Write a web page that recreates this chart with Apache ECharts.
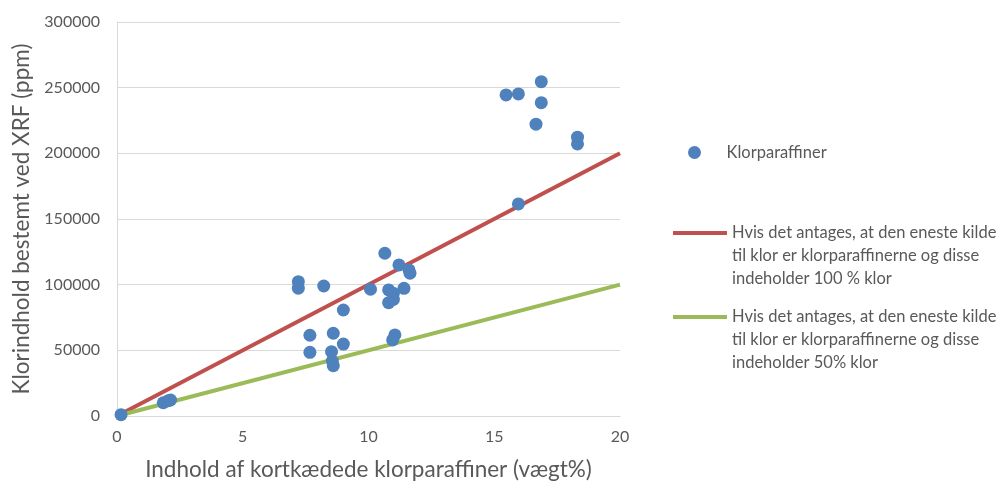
<!DOCTYPE html>
<html>
<head>
<meta charset="utf-8">
<script src="https://cdn.jsdelivr.net/npm/echarts@6/dist/echarts.min.js"></script>
<style>
    html, body { margin: 0; padding: 0; background: #fff; }
    #main { width: 1005px; height: 486px; }
</style>
</head>
<body>
<div id="main"></div>
<script>
// data
var klorX = [0.16, 1.84, 2.04, 2.13, 7.21, 7.21, 8.22, 9.0, 7.67, 7.67, 8.6, 9.0, 8.53, 8.56, 8.6,
    10.08, 10.65, 11.21, 10.8, 10.99, 10.8, 10.99, 11.41, 11.61, 11.65, 11.05, 10.96,
    15.47, 15.96, 16.87, 16.87, 16.66, 18.31, 18.31, 15.96];
var klorY = [1000, 10100, 11650, 12200, 102300, 97300, 99000, 80700, 61500, 48500, 63000, 54800, 49000, 41900, 38300,
    96500, 123900, 115000, 96000, 93400, 86300, 88800, 97200, 111200, 108700, 61700, 57900,
    244500, 245200, 254600, 238600, 222200, 212300, 207200, 161500];
var lineX = [0, 20];
var line100 = [0, 200000];
var line50 = [0, 100000];

var navn = ['Klorparaffiner',
    'Hvis det antages, at den eneste kilde\ntil klor er klorparaffinerne og disse\nindeholder 100 % klor',
    'Hvis det antages, at den eneste kilde\ntil klor er klorparaffinerne og disse\nindeholder 50% klor'];

function pairs(xs, ys) {
    var out = [];
    for (var i = 0; i < xs.length; i++) {
        out.push([xs[i], ys[i]]);
    }
    return out;
}

var font = 'Lato';
var grey = '#595959';
var legendText = {
    color: grey,
    fontFamily: font,
    fontSize: 16.5,
    lineHeight: 23
};
// line icon drawn at the height of the first text line (box 54 x 69)
var lineIcon = 'path://M0,9.5L54,9.5L54,13.5L0,13.5Z M0,0L0.01,0L0.01,0.01Z M53.99,68.99L54,68.99L54,69Z';

var chart = echarts.init(document.getElementById('main'));
chart.setOption({
    backgroundColor: '#fff',
    animation: false,
    grid: { left: 117, right: 385, top: 22, bottom: 70 },
    legend: [{
        left: 683, top: 136,
        data: [{ name: navn[0], icon: 'circle' }],
        itemWidth: 54, itemHeight: 13, itemGap: 0, textStyle: legendText
    }, {
        left: 668, top: 216.5,
        data: [{ name: navn[1], icon: lineIcon }],
        symbolKeepAspect: false,
        itemWidth: 54, itemHeight: 69, itemGap: 0, textStyle: legendText
    }, {
        left: 668, top: 300.5,
        data: [{ name: navn[2], icon: lineIcon }],
        symbolKeepAspect: false,
        itemWidth: 54, itemHeight: 69, itemGap: 0, textStyle: legendText
    }],
    xAxis: {
        type: 'value',
        min: 0, max: 20, interval: 5,
        name: 'Indhold af kortkædede klorparaffiner (vægt%)',
        nameLocation: 'middle',
        nameGap: 42,
        nameTextStyle: { color: grey, fontFamily: font, fontSize: 22.5 },
        axisLine: { lineStyle: { color: '#d9d9d9', width: 1 } },
        axisTick: { show: false },
        axisLabel: { color: grey, fontFamily: font, fontSize: 16, margin: 13 },
        splitLine: { show: false }
    },
    yAxis: {
        type: 'value',
        min: 0, max: 300000, interval: 50000,
        name: 'Klorindhold bestemt ved XRF (ppm)',
        nameLocation: 'middle',
        nameGap: 70,
        nameTextStyle: { color: grey, fontFamily: font, fontSize: 22.5 },
        axisLine: { show: true, lineStyle: { color: '#d9d9d9', width: 1 } },
        axisTick: { show: false },
        axisLabel: {
            color: grey, fontFamily: font, fontSize: 16, margin: 17,
            formatter: function (v) { return String(v); }
        },
        splitLine: { lineStyle: { color: '#d9d9d9', width: 1 } }
    },
    series: [{
        name: navn[1],
        type: 'line',
        data: pairs(lineX, line100),
        showSymbol: false,
        symbol: 'none',
        lineStyle: { color: '#c0504d', width: 4 },
        itemStyle: { color: '#c0504d' },
        z: 2
    }, {
        name: navn[2],
        type: 'line',
        data: pairs(lineX, line50),
        showSymbol: false,
        symbol: 'none',
        lineStyle: { color: '#9bbb59', width: 4 },
        itemStyle: { color: '#9bbb59' },
        z: 2
    }, {
        name: navn[0],
        type: 'scatter',
        data: pairs(klorX, klorY),
        symbolSize: 13,
        itemStyle: { color: '#4f81bd', opacity: 1 },
        z: 3
    }]
});
</script>
</body>
</html>
